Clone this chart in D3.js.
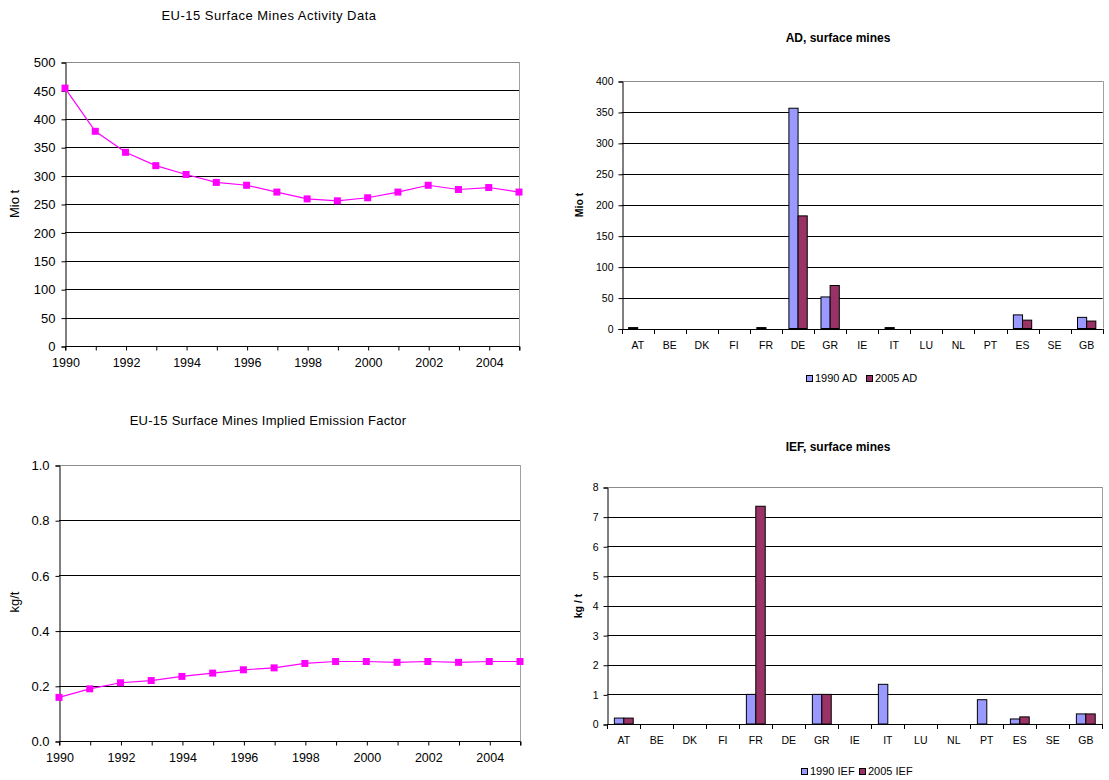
<!DOCTYPE html>
<html>
<head>
<meta charset="utf-8">
<script src="https://cdn.jsdelivr.net/npm/d3@7/dist/d3.min.js"></script>
<style>
  html, body { margin: 0; padding: 0; background: #fff; }
  svg { display: block; font-family: "Liberation Sans", Arial, sans-serif; }
</style>
</head>
<body>
<svg id="chart" width="1109" height="780"></svg>
<script>
// ---------- DATA ----------
const years = [1990, 1991, 1992, 1993, 1994, 1995, 1996, 1997, 1998, 1999, 2000, 2001, 2002, 2003, 2004, 2005];
const yearLabels = ["1990", "1992", "1994", "1996", "1998", "2000", "2002", "2004"];
const adEU15 = [454, 378, 341, 317.5, 302, 288, 283, 271, 259, 255.6, 261, 271, 283, 275.5, 279, 271];
const iefEU15 = [0.158, 0.189, 0.211, 0.219, 0.234, 0.246, 0.258, 0.265, 0.281, 0.288, 0.288, 0.285, 0.288, 0.285, 0.288, 0.288];

const countries = ["AT", "BE", "DK", "FI", "FR", "DE", "GR", "IE", "IT", "LU", "NL", "PT", "ES", "SE", "GB"];
const ad1990 = [1.5, 0, 0, 0, 1.5, 356, 51, 0, 1.5, 0, 0, 0, 22, 0, 18];
const ad2005 = [0, 0, 0, 0, 0, 182, 69.5, 0, 0, 0, 0, 0, 13.5, 0, 12];
const ief1990 = [0.2, 0, 0, 0, 1.0, 0, 1.0, 0, 1.34, 0, 0, 0.82, 0.17, 0, 0.34];
const ief2005 = [0.2, 0, 0, 0, 7.35, 0, 1.0, 0, 0, 0, 0, 0, 0.24, 0, 0.34];

const adTicks = [0, 50, 100, 150, 200, 250, 300, 350, 400, 450, 500];
const iefTicks = [0, 0.2, 0.4, 0.6, 0.8, 1.0];
const adBarTicks = [0, 50, 100, 150, 200, 250, 300, 350, 400];
const iefBarTicks = [0, 1, 2, 3, 4, 5, 6, 7, 8];

const color1990 = "#9999FF";
const color2005 = "#993366";
const lineColor = "#FF00FF";

const svg = d3.select("#chart");
svg.append("rect").attr("width", 1109).attr("height", 780).attr("fill", "#fff");

// ---------- LINE CHART ----------
function lineChart(cfg) {
  const g = svg.append("g");
  const x = d3.scaleLinear().domain([years[0], years[years.length - 1]]).range([cfg.left, cfg.right]);
  const y = d3.scaleLinear().domain([cfg.ticks[0], cfg.ticks[cfg.ticks.length - 1]]).range([cfg.bottom, cfg.top]);

  g.selectAll("line.grid").data(cfg.ticks.slice(1)).enter().append("line")
    .attr("x1", cfg.left).attr("x2", cfg.right)
    .attr("y1", d => Math.round(y(d)) + 0.5).attr("y2", d => Math.round(y(d)) + 0.5)
    .attr("stroke", (d, i) => i === cfg.ticks.length - 2 ? "#8c8c8c" : "#000")
    .attr("stroke-width", 1);
  g.append("line").attr("x1", Math.round(cfg.right) + 0.5).attr("x2", Math.round(cfg.right) + 0.5)
    .attr("y1", cfg.top).attr("y2", cfg.bottom).attr("stroke", "#a0a0a0");

  const yAxis = d3.axisLeft(y).tickValues(cfg.ticks).tickSize(4).tickPadding(6).tickFormat(cfg.fmt);
  const ya = g.append("g").attr("transform", `translate(${Math.round(cfg.left) + 0.5},0.5)`).call(yAxis);
  ya.select(".domain").attr("stroke", "#000");
  ya.selectAll(".tick line").attr("stroke", "#000");
  ya.selectAll("text").attr("font-size", "13px").attr("fill", "#000")
    .attr("font-family", "Liberation Sans, Arial, sans-serif");

  const xAxis = d3.axisBottom(x).tickValues(years).tickSize(4).tickPadding(8)
    .tickFormat(d => yearLabels.includes(String(d)) ? String(d) : "");
  const xa = g.append("g").attr("transform", `translate(0.5,${Math.round(cfg.bottom) + 0.5})`).call(xAxis);
  xa.select(".domain").attr("stroke", "#000").attr("d", `M${cfg.left},4V0H${cfg.right}V4`);
  xa.selectAll(".tick line").attr("stroke", "#000");
  xa.selectAll("text").attr("font-size", "12.5px").attr("fill", "#000")
    .attr("font-family", "Liberation Sans, Arial, sans-serif");

  const pts = years.map((yr, i) => [yr, cfg.values[i]]);
  g.append("path").datum(pts)
    .attr("d", d3.line().x(d => x(d[0])).y(d => y(d[1])))
    .attr("fill", "none").attr("stroke", lineColor).attr("stroke-width", 1.2);
  g.selectAll("rect.mk").data(pts).enter().append("rect")
    .attr("x", d => x(d[0]) - 3.5).attr("y", d => y(d[1]) - 3.5)
    .attr("width", 7).attr("height", 7).attr("fill", lineColor);

  g.append("text").attr("x", cfg.titleX).attr("y", cfg.titleY)
    .attr("text-anchor", "middle").attr("dominant-baseline", "middle")
    .attr("font-size", "13px").attr("letter-spacing", cfg.titleSpacing).attr("fill", "#000").text(cfg.title);
  g.append("text").attr("transform", `translate(${cfg.ylabX},${cfg.ylabY}) rotate(-90)`)
    .attr("text-anchor", "middle").attr("dominant-baseline", "middle")
    .attr("font-size", "13px").attr("fill", "#000").text(cfg.ylabel);
}

// ---------- BAR CHART ----------
function barChart(cfg) {
  const g = svg.append("g");
  const x0 = d3.scaleBand().domain(countries).range([cfg.left, cfg.right]).paddingInner(0).paddingOuter(0);
  const bw = x0.bandwidth();
  const x1 = d3.scaleBand().domain(["a", "b"]).range([bw * 0.75 / 3.5, bw * 2.75 / 3.5]).padding(0);
  const y = d3.scaleLinear().domain([cfg.ticks[0], cfg.ticks[cfg.ticks.length - 1]]).range([cfg.bottom, cfg.top]);

  g.selectAll("line.grid").data(cfg.ticks.slice(1)).enter().append("line")
    .attr("x1", cfg.left).attr("x2", cfg.right)
    .attr("y1", d => Math.round(y(d)) + 0.5).attr("y2", d => Math.round(y(d)) + 0.5)
    .attr("stroke", (d, i) => i === cfg.ticks.length - 2 ? "#8c8c8c" : "#000")
    .attr("stroke-width", 1);
  g.append("line").attr("x1", Math.round(cfg.right) + 0.5).attr("x2", Math.round(cfg.right) + 0.5)
    .attr("y1", cfg.top).attr("y2", cfg.bottom).attr("stroke", "#a0a0a0");

  const series = [["a", cfg.s1, color1990], ["b", cfg.s2, color2005]];
  series.forEach(([key, vals, col]) => {
    const data = countries.map((c, i) => ({ c, v: vals[i] })).filter(d => d.v > 0);
    g.selectAll(null).data(data).enter().append("rect")
      .attr("x", d => x0(d.c) + x1(key))
      .attr("y", d => y(d.v))
      .attr("width", x1.bandwidth())
      .attr("height", d => Math.max(0, y(0) - y(d.v)))
      .attr("fill", col).attr("stroke", "#000").attr("stroke-width", 1);
  });

  const yAxis = d3.axisLeft(y).tickValues(cfg.ticks).tickSize(4).tickPadding(5);
  const ya = g.append("g").attr("transform", `translate(${Math.round(cfg.left) + 0.5},0.5)`).call(yAxis);
  ya.select(".domain").attr("stroke", "#000");
  ya.selectAll(".tick line").attr("stroke", "#000");
  ya.selectAll("text").attr("font-size", "10.5px").attr("fill", "#000")
    .attr("font-family", "Liberation Sans, Arial, sans-serif");

  const xAxis = d3.axisBottom(x0).tickSize(0).tickPadding(12);
  const xa = g.append("g").attr("transform", `translate(0,${Math.round(cfg.bottom) + 0.5})`).call(xAxis);
  xa.select(".domain").attr("stroke", "#000").attr("d", `M${cfg.left},0H${cfg.right}`);
  xa.selectAll("text").attr("font-size", "10.5px").attr("fill", "#000")
    .attr("font-family", "Liberation Sans, Arial, sans-serif");
  const bounds = countries.map(c => x0(c)).concat([x0.range()[1]]);
  g.selectAll(null).data(bounds).enter().append("line")
    .attr("x1", d => Math.round(d) + 0.5).attr("x2", d => Math.round(d) + 0.5)
    .attr("y1", Math.round(cfg.bottom)).attr("y2", Math.round(cfg.bottom) + 5)
    .attr("stroke", "#000");

  g.append("text").attr("x", cfg.titleX).attr("y", cfg.titleY)
    .attr("text-anchor", "middle").attr("dominant-baseline", "middle")
    .attr("font-size", "12px").attr("font-weight", "bold").attr("fill", "#000").text(cfg.title);
  g.append("text").attr("transform", `translate(${cfg.ylabX},${cfg.ylabY}) rotate(-90)`)
    .attr("text-anchor", "middle").attr("dominant-baseline", "middle")
    .attr("font-size", "10.5px").attr("font-weight", "bold").attr("fill", "#000").text(cfg.ylabel);

  const lg = g.append("g");
  cfg.legend.forEach((item, i) => {
    lg.append("rect").attr("x", item.x + 0.5).attr("y", cfg.legendY - 3.5)
      .attr("width", 6).attr("height", 6).attr("fill", i === 0 ? color1990 : color2005).attr("stroke", "#000");
    lg.append("text").attr("x", item.x + 9).attr("y", cfg.legendY)
      .attr("dominant-baseline", "middle").attr("font-size", "11px").attr("fill", "#000").text(item.label);
  });
}

lineChart({
  left: 65, right: 519, top: 62, bottom: 346,
  ticks: adTicks, fmt: d3.format("d"), values: adEU15,
  title: "EU-15 Surface Mines Activity Data", titleX: 269, titleY: 17, titleSpacing: "0.5px",
  ylabel: "Mio t", ylabX: 16, ylabY: 204
});

lineChart({
  left: 59, right: 520, top: 465, bottom: 741,
  ticks: iefTicks, fmt: d3.format(".1f"), values: iefEU15,
  title: "EU-15 Surface Mines Implied Emission Factor", titleX: 268, titleY: 422, titleSpacing: "0.25px",
  ylabel: "kg/t", ylabX: 16, ylabY: 602
});

barChart({
  left: 621.7, right: 1102.7, top: 81, bottom: 328.5,
  ticks: adBarTicks, s1: ad1990, s2: ad2005,
  title: "AD, surface mines", titleX: 838, titleY: 39,
  ylabel: "Mio t", ylabX: 580, ylabY: 205,
  legendY: 379, legend: [{ x: 806, label: "1990 AD" }, { x: 866, label: "2005 AD" }]
});

barChart({
  left: 607.3, right: 1102.3, top: 487, bottom: 724,
  ticks: iefBarTicks, s1: ief1990, s2: ief2005,
  title: "IEF, surface mines", titleX: 838, titleY: 448,
  ylabel: "kg / t", ylabX: 579, ylabY: 606,
  legendY: 772, legend: [{ x: 801, label: "1990 IEF" }, { x: 859, label: "2005 IEF" }]
});
</script>
</body>
</html>
